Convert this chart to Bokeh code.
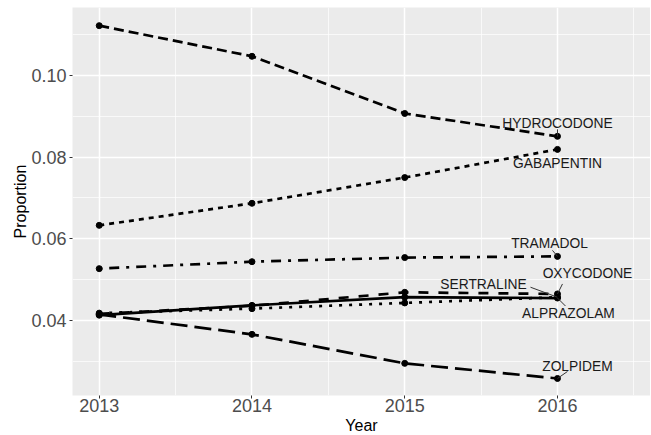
from bokeh.plotting import figure
from bokeh.models import FixedTicker
from bokeh.core.properties import value
from bokeh.embed import file_html
from bokeh.resources import INLINE

# ---- data ----
years = [2013, 2014, 2015, 2016]
drugs = ["ALPRAZOLAM", "GABAPENTIN", "HYDROCODONE", "OXYCODONE",
         "SERTRALINE", "TRAMADOL", "ZOLPIDEM"]
alprazolam = [0.0413, 0.0437, 0.0457, 0.0455]
gabapentin = [0.0633, 0.0687, 0.0750, 0.0819]
hydrocodone = [0.1122, 0.1047, 0.0907, 0.0851]
oxycodone = [0.0416, 0.0436, 0.0469, 0.0465]
sertraline = [0.0418, 0.0429, 0.0443, 0.0457]
tramadol = [0.0527, 0.0544, 0.0554, 0.0557]
zolpidem = [0.0415, 0.0366, 0.0295, 0.0258]
series = [alprazolam, gabapentin, hydrocodone, oxycodone, sertraline, tramadol, zolpidem]

x_major = [2013, 2014, 2015, 2016]
x_minor = [2012.5, 2013.5, 2014.5, 2015.5, 2016.5]
x_labels = ["2013", "2014", "2015", "2016"]
y_major = [0.04, 0.06, 0.08, 0.10]
y_minor = [0.03, 0.05, 0.07, 0.09, 0.11]
y_labels = ["0.04", "0.06", "0.08", "0.10"]

# ---- styles ----
dashes = {
    "ALPRAZOLAM": "solid",
    "GABAPENTIN": "5 5",
    "HYDROCODONE": "10 5",
    "OXYCODONE": "10 10",
    "SERTRALINE": "3 7",
    "TRAMADOL": "3 7 10 7",
    "ZOLPIDEM": "17 7",
}
# label offsets (screen px) relative to last point, and segment ends (px)
label_off = {
    "HYDROCODONE": (0, -13, 0, -7),
    "GABAPENTIN": (0, 14, 0, 0),
    "TRAMADOL": (-8, -13, -5, -6),
    "OXYCODONE": (30, -20, 5, -10),
    "SERTRALINE": (-74, -13, -27, -10),
    "ALPRAZOLAM": (11, 15, 8, 8),
    "ZOLPIDEM": (20, -12, 10, -7),
}

X0, X1 = 2012.825, 2016.609
Y0, Y1 = 0.02163, 0.11665
FW, FH = 578, 388

p = figure(frame_width=FW, frame_height=FH, x_range=(X0, X1), y_range=(Y0, Y1),
           output_backend="svg", toolbar_location=None,
           min_border_left=72, min_border_right=0, min_border_top=7, min_border_bottom=39)
p.background_fill_color = "#EBEBEB"
p.border_fill_color = "white"
p.outline_line_color = None

p.xaxis.ticker = FixedTicker(ticks=x_major, minor_ticks=x_minor)
p.yaxis.ticker = FixedTicker(ticks=y_major, minor_ticks=y_minor)
p.xaxis.major_label_overrides = {t: l for t, l in zip(x_major, x_labels)}
p.yaxis.major_label_overrides = {t: l for t, l in zip(y_major, y_labels)}

for ax in (p.xaxis, p.yaxis):
    ax.axis_line_color = None
    ax.major_tick_line_color = "#333333"
    ax.major_tick_in = 0
    ax.major_tick_out = 3
    ax.minor_tick_line_color = None
    ax.major_label_text_font = "Liberation Sans"
    ax.major_label_text_font_size = "18px"
    ax.major_label_text_color = "#4D4D4D"
    ax.axis_label_text_font = "Liberation Sans"
    ax.axis_label_text_font_size = "16px"
    ax.axis_label_text_font_style = "normal"
    ax.axis_label_text_color = "#000000"
p.xaxis.axis_label = "Year"
p.yaxis.axis_label = "Proportion"
p.xaxis.major_label_standoff = -1
p.xaxis.axis_label_standoff = 2
p.yaxis.major_label_standoff = 2
p.yaxis.axis_label_standoff = -1

for g in (p.xgrid, p.ygrid):
    g.grid_line_color = "white"
    g.grid_line_width = 1.5
    g.minor_grid_line_color = "white"
    g.minor_grid_line_width = 0.7

for name, vals in zip(drugs, series):
    p.line(years, vals, line_color="black", line_width=2.7, line_dash=dashes[name])
    p.scatter(years, vals, size=6, fill_color="black", line_color="black")

sx = FW / (X1 - X0)
sy = FH / (Y1 - Y0)
for name, vals in zip(drugs, series):
    lx, ly, ex, ey = label_off[name]
    xe, ye = years[-1], vals[-1]
    if ex != 0 or ey != 0:
        p.segment(x0=[xe], y0=[ye], x1=[xe + ex / sx], y1=[ye - ey / sy],
                  line_color="#333333", line_width=1)
    p.text(x=[xe], y=[ye], text=[name], x_offset=lx, y_offset=ly,
           text_font=value("Liberation Sans"), text_font_size="13.8px",
           text_color="#1a1a1a", text_align="center", text_baseline="middle")

open("out.html", "w").write(file_html(p, INLINE))
